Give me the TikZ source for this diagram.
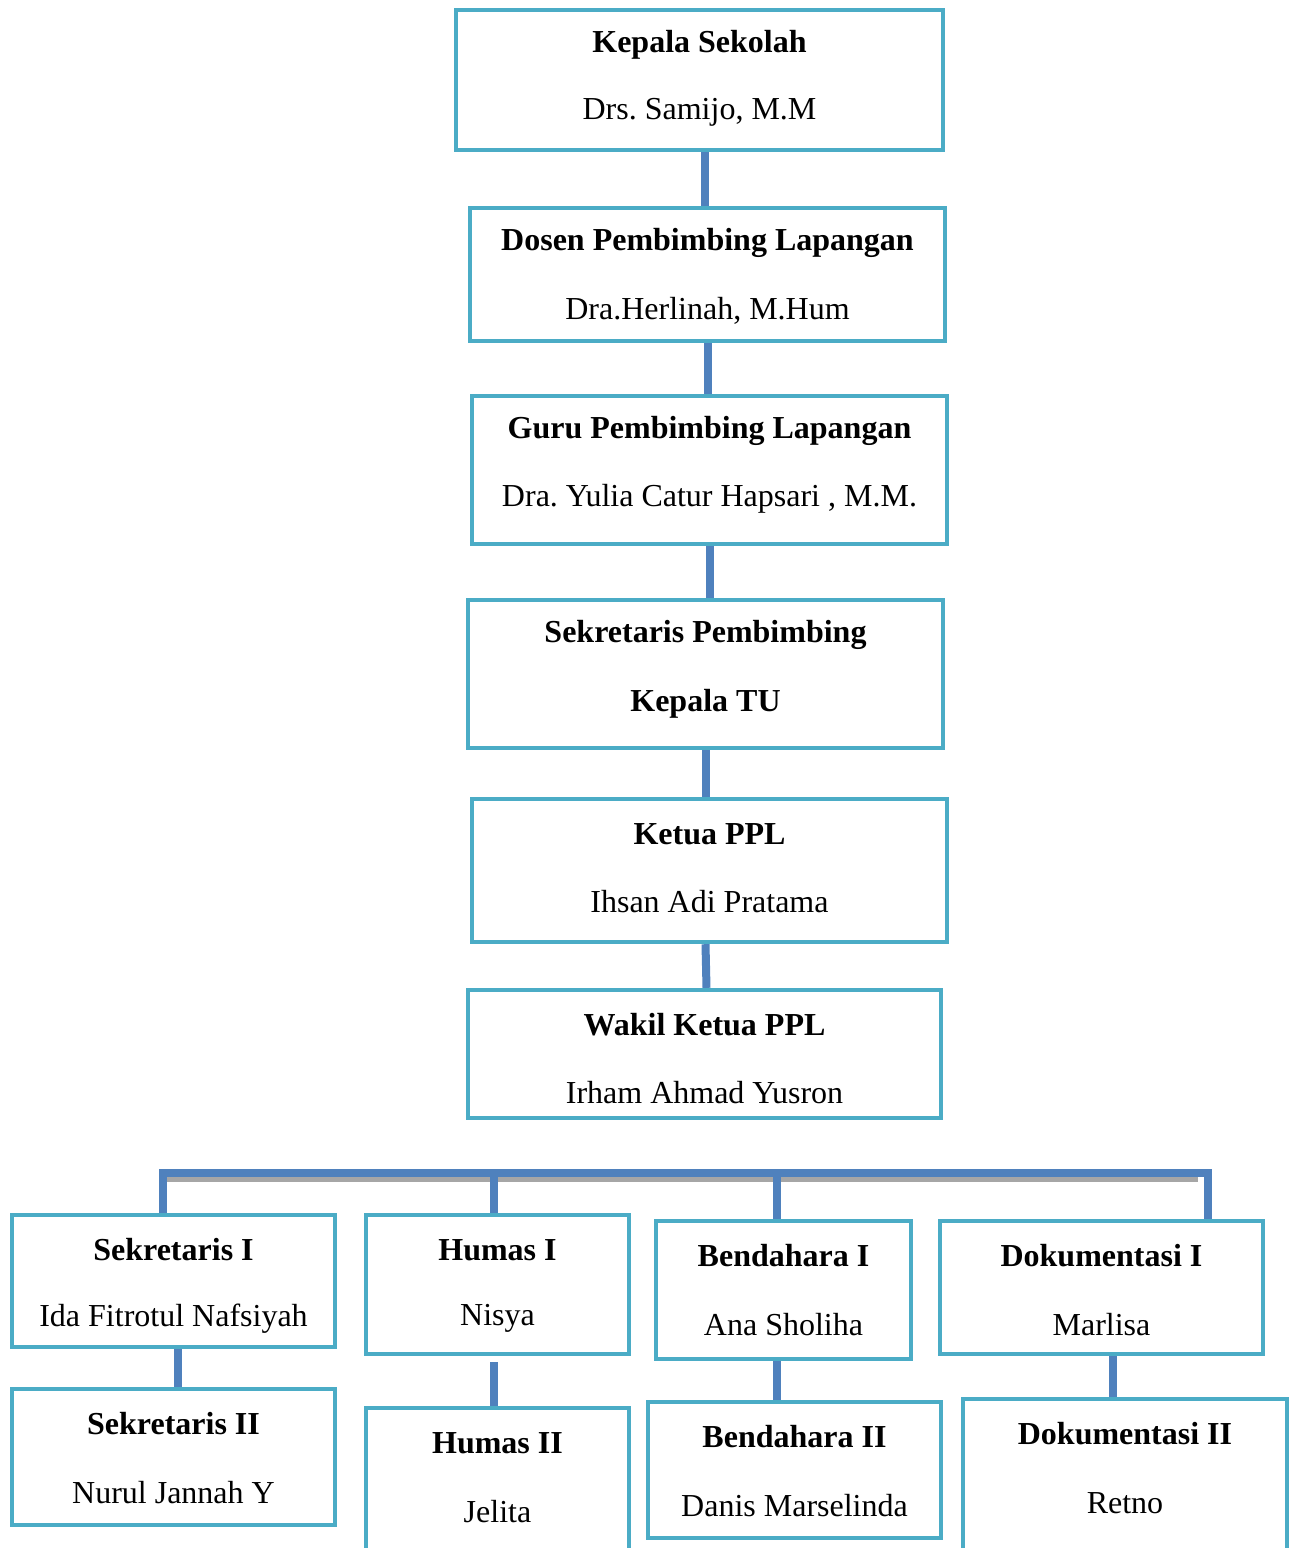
\documentclass[tikz,border=0pt]{standalone}
\usepackage{fontspec}
\setmainfont{Liberation Serif}
\frenchspacing
\usetikzlibrary{fit,calc}
\definecolor{kotakbiru}{HTML}{4BACC6}
\definecolor{garisbiru}{HTML}{4F81BD}
\definecolor{bayangan}{HTML}{A6A6A6}
\tikzset{
  kotak/.style={draw=kotakbiru, line width=2.2pt, inner sep=0pt},
  judul/.style={font=\fontsize{16}{19}\selectfont\bfseries, inner sep=0pt},
  nama/.style={font=\fontsize{16}{19}\selectfont, inner sep=0pt},
  garis/.style={draw=garisbiru, line width=4pt},
}
\begin{document}
\begin{tikzpicture}[x=0.5pt, y=-0.5pt]
    \useasboundingbox (0,0) rectangle (1294,1548);
    \clip (0,0) rectangle (1294,1548);
    % struktur atas
    \node[kotak, fit={(456,10) (943,150)}] (ks) {};
    \node[judul] (ks-j) at ([yshift=-18.5pt]ks.north) {Kepala Sekolah};
    \node[nama] (ks-n) at ([yshift=-52.5pt]ks.north) {Drs. Samijo, M.M};
    \node[kotak, fit={(470,208) (945,341)}] (dpl) {};
    \node[judul] (dpl-j) at ([yshift=-18.5pt]dpl.north) {Dosen Pembimbing Lapangan};
    \node[nama] (dpl-n) at ([yshift=-52.5pt]dpl.north) {Dra.Herlinah, M.Hum};
    \node[kotak, fit={(472,396) (947,544)}] (gpl) {};
    \node[judul] (gpl-j) at ([yshift=-18.5pt]gpl.north) {Guru Pembimbing Lapangan};
    \node[nama] (gpl-n) at ([yshift=-52.5pt]gpl.north) {Dra. Yulia Catur Hapsari , M.M.};
    \node[kotak, fit={(468,600) (943,748)}] (sp) {};
    \node[judul] (sp-j) at ([yshift=-18.5pt]sp.north) {Sekretaris Pembimbing};
    \node[judul] (sp-n) at ([yshift=-53pt]sp.north) {Kepala TU};
    \node[kotak, fit={(472,799) (947,942)}] (ketua) {};
    \node[judul] (ketua-j) at ([yshift=-18.5pt]ketua.north) {Ketua PPL};
    \node[nama] (ketua-n) at ([yshift=-52.5pt]ketua.north) {Ihsan Adi Pratama};
    \node[kotak, fit={(468,990) (941,1118)}] (wakil) {};
    \node[judul] (wakil-j) at ([yshift=-18.5pt]wakil.north) {Wakil Ketua PPL};
    \node[nama] (wakil-n) at ([yshift=-52.5pt]wakil.north) {Irham Ahmad Yusron};
    % seksi
    \node[kotak, fit={(12,1215) (335,1347)}] (sek1) {};
    \node[judul] (sek1-j) at ([yshift=-18.5pt]sek1.north) {Sekretaris I};
    \node[nama] (sek1-n) at ([yshift=-53pt]sek1.north) {Ida Fitrotul Nafsiyah};
    \node[kotak, fit={(366,1215) (629,1354)}] (hum1) {};
    \node[judul] (hum1-j) at ([yshift=-18.5pt]hum1.north) {Humas I};
    \node[nama] (hum1-n) at ([yshift=-53pt]hum1.north) {Nisya};
    \node[kotak, fit={(656,1221) (911,1359)}] (ben1) {};
    \node[judul] (ben1-j) at ([yshift=-18.5pt]ben1.north) {Bendahara I};
    \node[nama] (ben1-n) at ([yshift=-53pt]ben1.north) {Ana Sholiha};
    \node[kotak, fit={(940,1221) (1263,1354)}] (dok1) {};
    \node[judul] (dok1-j) at ([yshift=-18.5pt]dok1.north) {Dokumentasi I};
    \node[nama] (dok1-n) at ([yshift=-53pt]dok1.north) {Marlisa};
    \node[kotak, fit={(12,1389) (335,1525)}] (sek2) {};
    \node[judul] (sek2-j) at ([yshift=-18.5pt]sek2.north) {Sekretaris II};
    \node[nama] (sek2-n) at ([yshift=-53pt]sek2.north) {Nurul Jannah Y};
    \node[kotak, fit={(366,1408) (629,1570)}] (hum2) {};
    \node[judul] (hum2-j) at ([yshift=-18.5pt]hum2.north) {Humas II};
    \node[nama] (hum2-n) at ([yshift=-53pt]hum2.north) {Jelita};
    \node[kotak, fit={(648,1402) (941,1538)}] (ben2) {};
    \node[judul] (ben2-j) at ([yshift=-18.5pt]ben2.north) {Bendahara II};
    \node[nama] (ben2-n) at ([yshift=-53pt]ben2.north) {Danis Marselinda};
    \node[kotak, fit={(963,1399) (1287,1570)}] (dok2) {};
    \node[judul] (dok2-j) at ([yshift=-18.5pt]dok2.north) {Dokumentasi II};
    \node[nama] (dok2-n) at ([yshift=-53pt]dok2.north) {Retno};
    % garis penghubung
    \draw[garis] ([xshift=-1.25pt]dpl.north |- ks.south) -- ([xshift=-1.25pt]dpl.north);
    \draw[garis] (dpl.south) -- (dpl.south |- gpl.north);
    \draw[garis] (gpl.south) -- (gpl.south |- sp.north);
    \draw[garis] (sp.south) -- (sp.south |- ketua.north);
    \draw[garis] ([xshift=-2pt]ketua.south) -- ([xshift=1pt]wakil.north);
    \coordinate (bus1) at (163,1173);
    \coordinate (bus2) at (494,1173);
    \coordinate (bus3) at (777,1173);
    \coordinate (bus4) at (1208,1173);
    \draw[bayangan, line width=3pt] ([yshift=-3pt]bus1) -- ([yshift=-3pt,xshift=-5pt]bus4);
    \draw[garis] (bus1 |- sek1.north) -- (bus1) -- (bus4) -- (bus4 |- dok1.north);
    \draw[garis] (bus2) -- (bus2 |- hum1.north);
    \draw[garis] (bus3) -- (bus3 |- ben1.north);
    \draw[garis] ([xshift=2pt]sek1.south) -- ([xshift=2pt]sek2.north);
    \draw[garis, shorten <=3pt] ([xshift=-2pt]hum1.south) -- ([xshift=-2pt]hum2.north);
    \draw[garis] (ben1.south -| bus3) -- (ben2.north -| bus3);
    \coordinate (dokmid) at ($(dok1.south)!.5!(dok2.north)$);
    \draw[garis] (dok1.south -| dokmid) -- (dok2.north -| dokmid);
\end{tikzpicture}
\end{document}
